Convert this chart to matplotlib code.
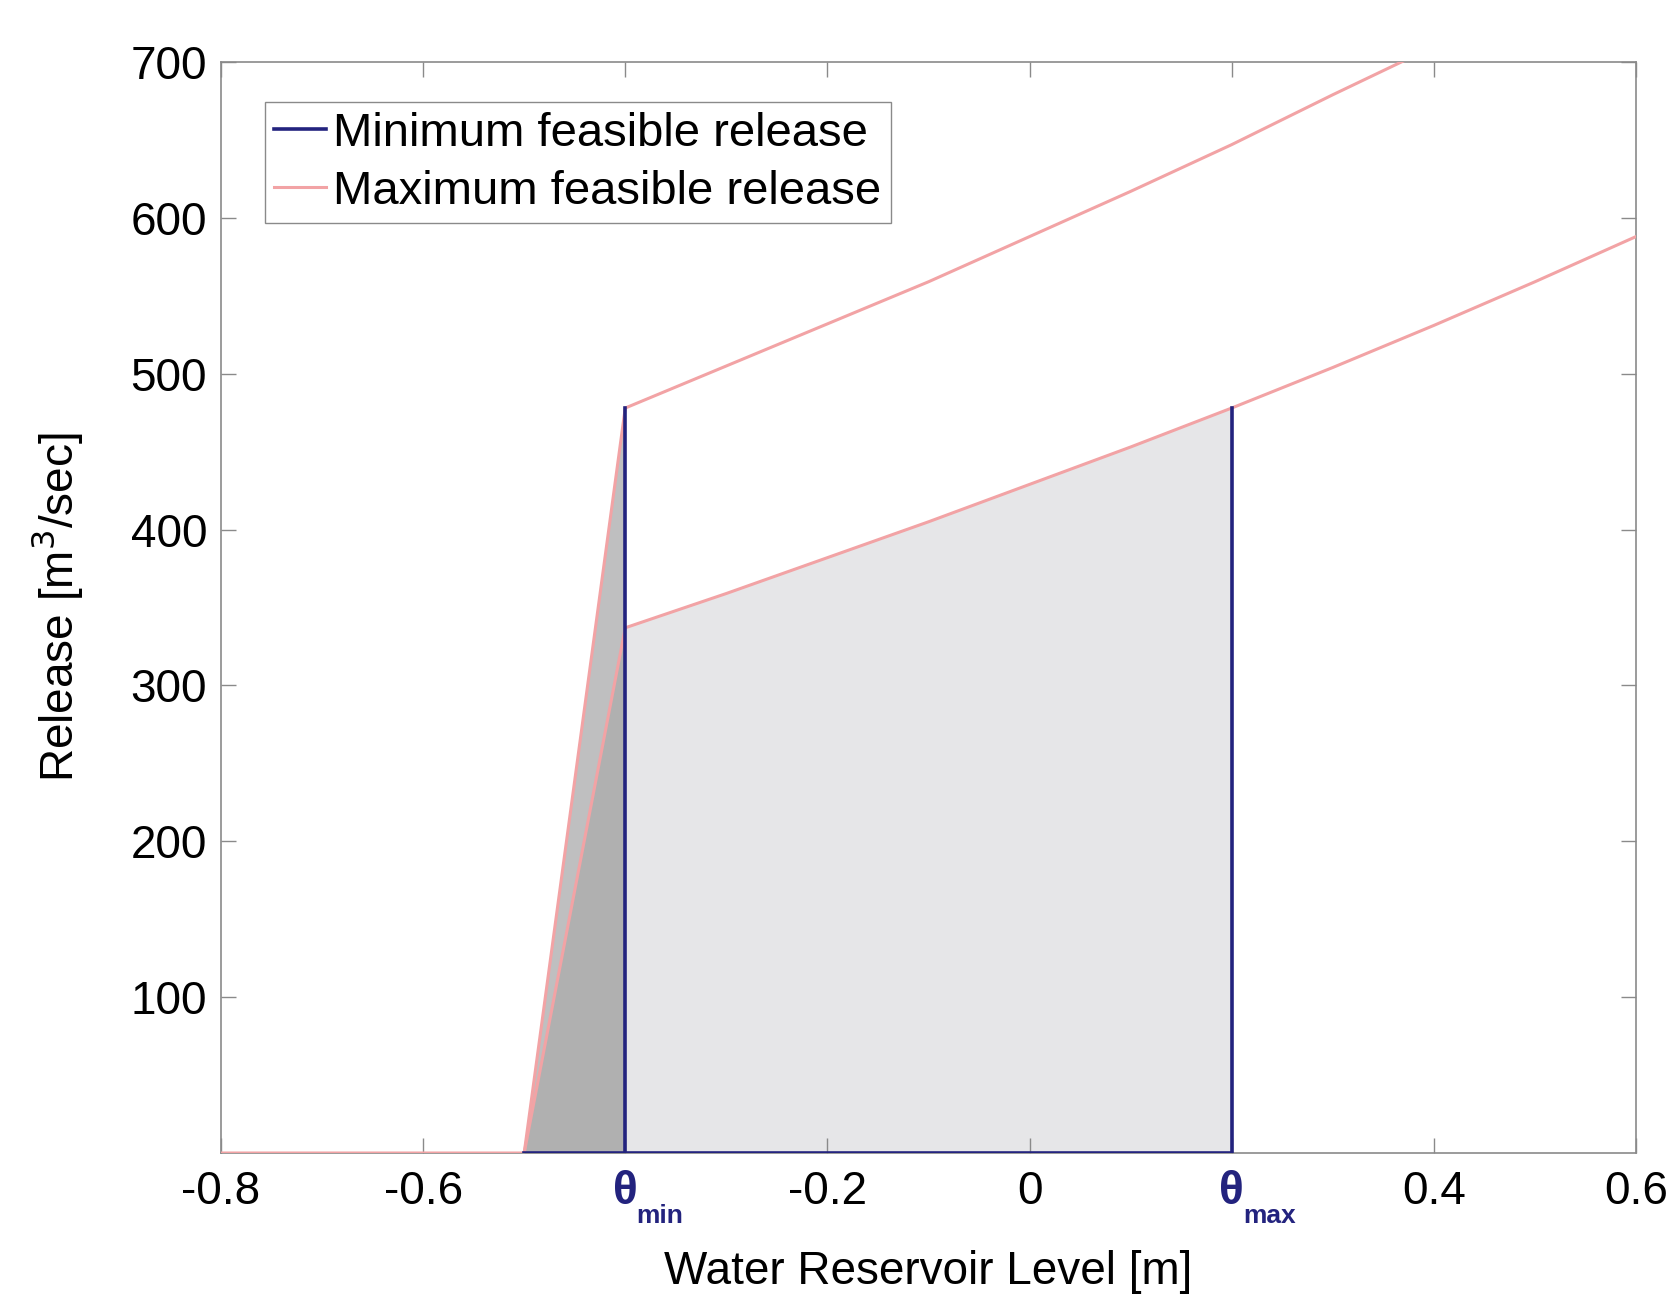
import numpy as np
import matplotlib
matplotlib.use("Agg")
import matplotlib.pyplot as plt
import matplotlib.transforms as mtrans

plt.rcParams['font.family'] = ['Liberation Sans', 'DejaVu Sans']

# data
theta_min, theta_max = -0.4, 0.2
flat_x = [-0.8, -0.5]                      # zero release below dead storage
ramp_x = [-0.5, -0.4]
upper_x = [-0.4, -0.3, -0.2, -0.1, 0.0, 0.1, 0.2, 0.3, 0.4]
upper_q = [478, 505, 532, 559, 588, 617, 647, 679, 710]
lower_x = [-0.4, -0.3, -0.2, -0.1, 0.0, 0.1, 0.2, 0.3, 0.4, 0.5, 0.6]
lower_q = [337, 359, 382, 405, 429, 453, 478, 504, 531, 559, 588]
xticks = [-0.8, -0.6, -0.4, -0.2, 0, 0.2, 0.4, 0.6]
xticklabels = ['-0.8', '-0.6', '', '-0.2', '0', '', '0.4', '0.6']
yticks = [100, 200, 300, 400, 500, 600, 700]

NAVY = '#23237e'
PINK = '#f2a3a5'

fig = plt.figure(figsize=(16.69, 12.98), dpi=100)
ax = fig.add_axes([0.1324, 0.1117, 0.8478, 0.8405])

# shaded feasible region
ax.fill_between(ramp_x, 0, [0, upper_q[0]], color='#bfbfc0', lw=0, zorder=1)
ax.fill_between(ramp_x, 0, [0, lower_q[0]], color='#b0b0b0', lw=0, zorder=1)
lx = np.array(lower_x); lq = np.array(lower_q)
m = (lx >= theta_min) & (lx <= theta_max)
ax.fill_between(lx[m], 0, lq[m], color='#e6e6e8', lw=0, zorder=1)

# max feasible release
ax.plot(flat_x + upper_x, [0, 0] + upper_q, color=PINK, lw=2.2, zorder=3,
        label='Maximum feasible release')
ax.plot([ramp_x[0]] + lower_x, [0] + lower_q, color=PINK, lw=2.2, zorder=3)

# min feasible release
q_at_max = lq[lx == theta_max][0]
ax.plot([ramp_x[0], theta_max, theta_max], [0, 0, q_at_max], color=NAVY, lw=2.6,
        zorder=4, label='Minimum feasible release')
ax.plot([theta_min, theta_min], [0, upper_q[0]], color=NAVY, lw=2.6, zorder=4)

ax.set_xlim(-0.8, 0.6)
ax.set_ylim(0, 700)
ax.set_xticks(xticks)
ax.set_xticklabels(xticklabels)
ax.set_yticks(yticks)
ax.tick_params(direction='in', length=11, width=1, colors='#8a8a8a',
               labelcolor='black', labelsize=33, top=True, right=True)
ax.tick_params(axis='x', pad=12)
ax.tick_params(axis='y', pad=10)
for s in ax.spines.values():
    s.set_color('#8a8a8a')
    s.set_linewidth(1.2)

# theta labels
tr = mtrans.blended_transform_factory(ax.transData, ax.transAxes)
for xv, sub in [(theta_min, 'min'), (theta_max, 'max')]:
    ax.text(xv, -0.016, 'θ', transform=tr, ha='center', va='top',
            fontsize=33, fontweight='bold', color=NAVY)
    ax.annotate(sub, xy=(xv, -0.016), xycoords=tr, xytext=(8, -24),
                textcoords='offset points', ha='left', va='top',
                fontsize=19, fontweight='bold', color=NAVY)

ax.set_xlabel('Water Reservoir Level [m]', fontsize=33, labelpad=26)
ax.set_ylabel('Release [m$^3$/sec]', fontsize=33, labelpad=33)

h, l = ax.get_legend_handles_labels()
leg = ax.legend(h[::-1], l[::-1], loc='upper left', bbox_to_anchor=(0.031, 0.963),
                borderaxespad=0, fontsize=34, handlelength=1.1, handletextpad=0.15,
                labelspacing=0.3, borderpad=0.2, fancybox=False, framealpha=1)
leg.get_frame().set_edgecolor('#8a8a8a')
leg.get_frame().set_linewidth(1.0)

fig.savefig('out.png', dpi=100)
